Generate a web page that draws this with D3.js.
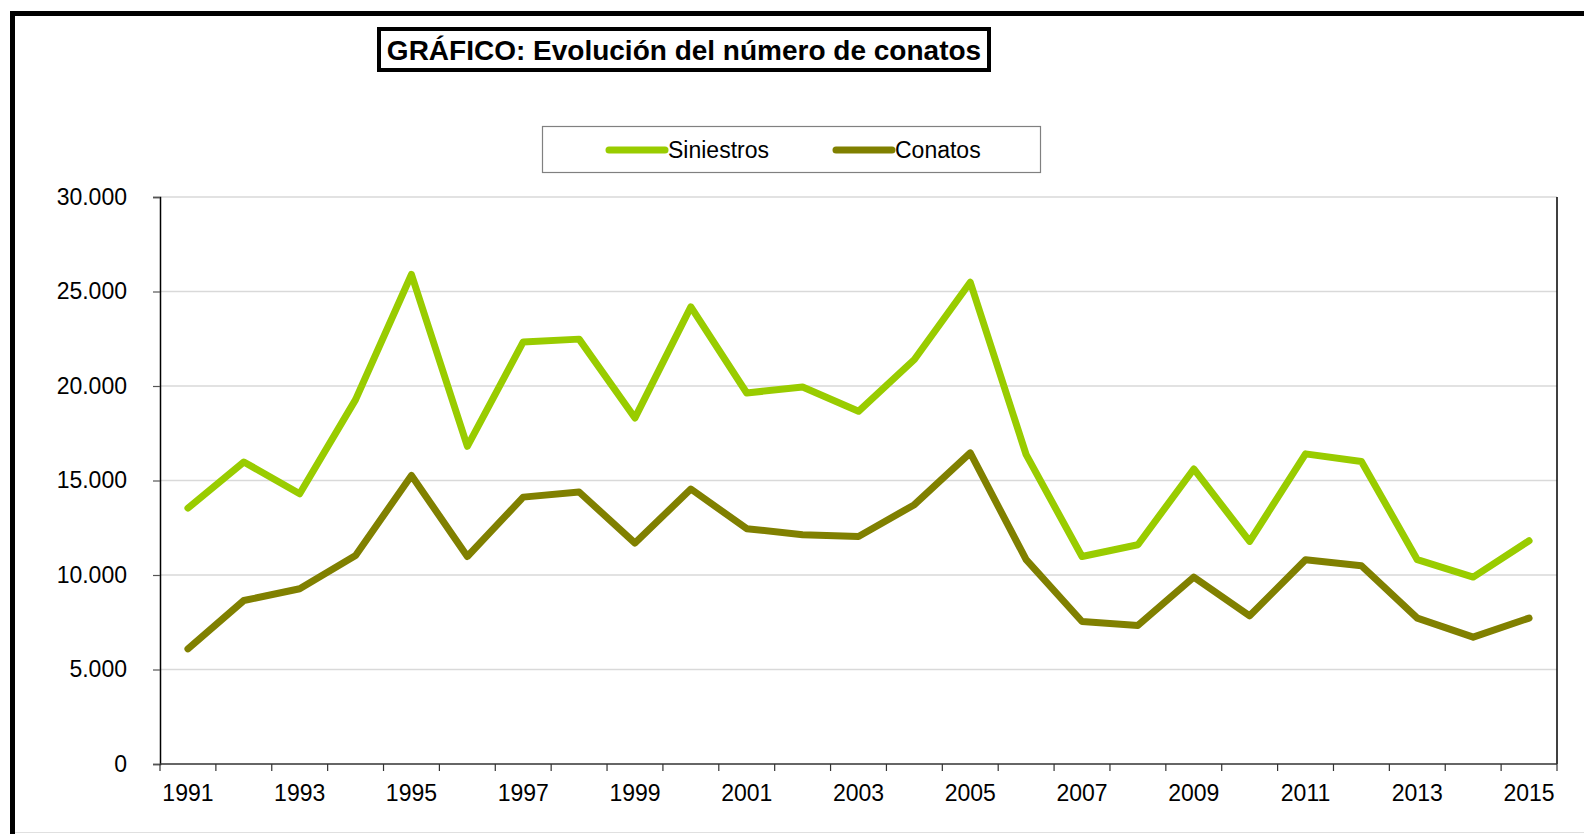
<!DOCTYPE html>
<html>
<head>
<meta charset="utf-8">
<script src="https://cdn.jsdelivr.net/npm/d3@7"></script>
<style>
  html, body { margin: 0; padding: 0; background: #fff; }
  svg { display: block; }
  text { font-family: "Liberation Sans", Arial, sans-serif; fill: #000; }
</style>
</head>
<body>
<svg id="chart" width="1584" height="834"></svg>
<script>
const years = [1991,1992,1993,1994,1995,1996,1997,1998,1999,2000,2001,2002,2003,2004,2005,2006,2007,2008,2009,2010,2011,2012,2013,2014,2015];
const siniestros = [13540,15980,14300,19280,25900,16810,22330,22480,18310,24190,19630,19950,18660,21400,25490,16370,10980,11600,15610,11780,16410,16010,10810,9890,11810];
const conatos = [6090,8650,9270,11030,15270,10980,14120,14390,11690,14550,12450,12130,12040,13720,16460,10810,7540,7330,9890,7840,10810,10490,7720,6710,7720];
const yTicks = [0,5000,10000,15000,20000,25000,30000];
const xLabelYears = [1991,1993,1995,1997,1999,2001,2003,2005,2007,2009,2011,2013,2015];
const seriesNames = ["Siniestros","Conatos"];
const seriesColors = ["#99cc00","#808000"];
const titleText = "GRÁFICO: Evolución del número de conatos";

const svg = d3.select("#chart");
const L = 160, R = 1557, T = 197, B = 764;

// outer frame (right and bottom edges fall outside the picture)
svg.append("rect").attr("x",12.5).attr("y",13.5).attr("width",1600).attr("height",840)
  .attr("fill","none").attr("stroke","#000").attr("stroke-width",5);
svg.append("line").attr("x1",15).attr("x2",1584).attr("y1",832.5).attr("y2",832.5)
  .attr("stroke","#e0e0e0").attr("stroke-width",1);

const x = d3.scaleBand().domain(years).range([L, R]).padding(0);
const y = d3.scaleLinear().domain([0,30000]).range([B, T]);

// gridlines
svg.append("g").selectAll("line").data(yTicks.filter(d=>d>0)).join("line")
  .attr("x1",L).attr("x2",R).attr("y1",d=>y(d)).attr("y2",d=>y(d))
  .attr("stroke","#d9d9d9").attr("stroke-width",1.5);

// right border of plot
svg.append("line").attr("x1",R).attr("x2",R).attr("y1",T).attr("y2",B)
  .attr("stroke","#000").attr("stroke-width",1.5);

// y axis
const fmt = d => d === 0 ? "0" : d3.format(",")(d).replace(/,/g,".");
const yAxis = d3.axisLeft(y).tickValues(yTicks).tickSize(7).tickPadding(26).tickFormat(fmt);
const gy = svg.append("g").attr("transform",`translate(${L},0)`).call(yAxis);
gy.select(".domain").attr("stroke","#000").attr("stroke-width",1.5);
gy.selectAll(".tick line").attr("stroke","#555").attr("stroke-width",1.2);
gy.selectAll("text").style("font-size","23px").style("font-family","'Liberation Sans', Arial, sans-serif").attr("fill","#000");

// x axis: ticks at band boundaries
const xAxisG = svg.append("g");
xAxisG.append("line").attr("x1",L).attr("x2",R).attr("y1",B).attr("y2",B)
  .attr("stroke","#333").attr("stroke-width",1.5);
const boundaries = years.map(d => x(d)).concat([R]);
xAxisG.selectAll("line.tk").data(boundaries).join("line").attr("class","tk")
  .attr("x1",d=>d).attr("x2",d=>d).attr("y1",B).attr("y2",B+7)
  .attr("stroke","#333").attr("stroke-width",1.2);
xAxisG.selectAll("text").data(xLabelYears).join("text")
  .attr("x",d=>x(d)+x.bandwidth()/2).attr("y",B+37)
  .attr("text-anchor","middle").style("font-size","23px").text(d=>d);

// lines
const line = d3.line().x((d,i)=>x(years[i])+x.bandwidth()/2).y(d=>y(d));
[siniestros, conatos].forEach((s,i)=>{
  svg.append("path").datum(s).attr("d",line).attr("fill","none")
    .attr("stroke",seriesColors[i]).attr("stroke-width",7)
    .attr("stroke-linecap","round").attr("stroke-linejoin","round");
});

// legend
svg.append("rect").attr("x",542.5).attr("y",126.5).attr("width",498).attr("height",46)
  .attr("fill","#fff").attr("stroke","#808080").attr("stroke-width",1.2);
const legX = [609, 836];
seriesNames.forEach((n,i)=>{
  svg.append("line").attr("x1",legX[i]).attr("x2",legX[i]+56).attr("y1",150).attr("y2",150)
    .attr("stroke",seriesColors[i]).attr("stroke-width",7).attr("stroke-linecap","round");
  svg.append("text").attr("x",legX[i]+59).attr("y",150).attr("dy","0.36em")
    .style("font-size","23px").text(n);
});

// title
svg.append("rect").attr("x",379).attr("y",29).attr("width",610).attr("height",41)
  .attr("fill","#fff").attr("stroke","#000").attr("stroke-width",4);
svg.append("text").attr("x",684).attr("y",50).attr("dy","0.36em").attr("text-anchor","middle")
  .style("font-size","28px").style("font-weight","bold").text(titleText);
</script>
</body>
</html>
